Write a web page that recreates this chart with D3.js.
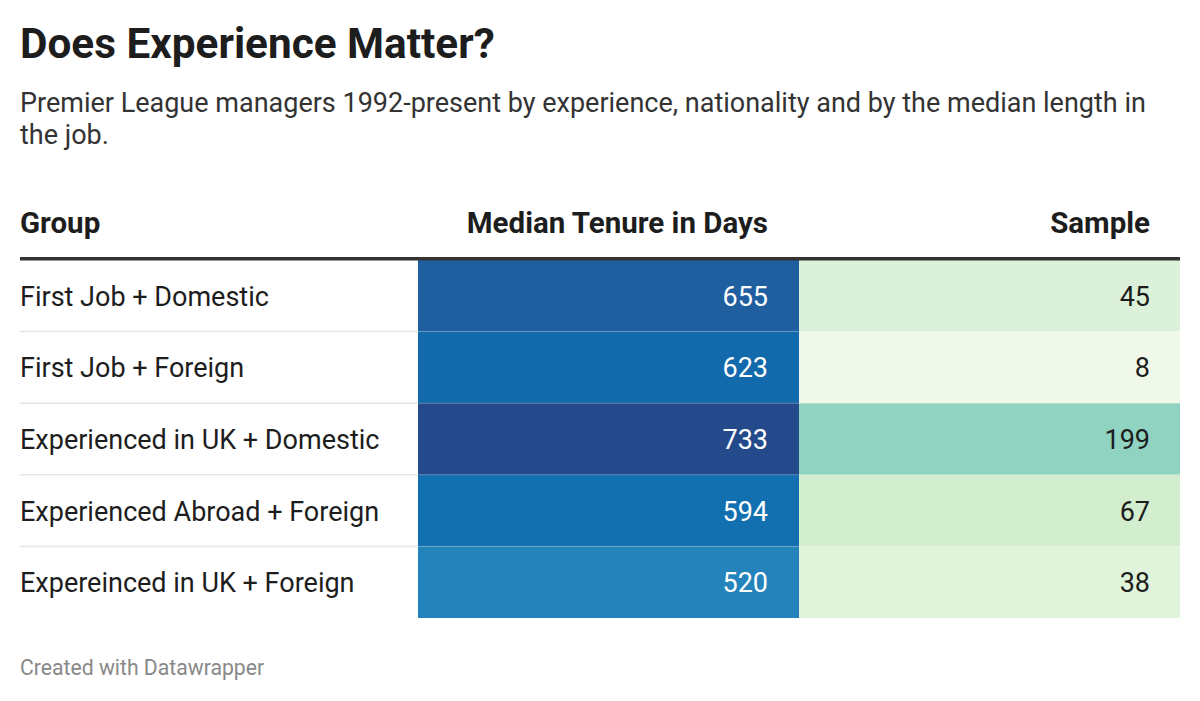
<!DOCTYPE html>
<html><head><meta charset="utf-8">
<script src="https://cdn.jsdelivr.net/npm/d3@7"></script>
<style>body{margin:0;background:#fff;font-family:Roboto,"Noto Sans",sans-serif;}</style>
</head><body><svg id="c" width="1200" height="701"></svg>
<script>
const groups = ["First Job + Domestic","First Job + Foreign","Experienced in UK + Domestic","Experienced Abroad + Foreign","Expereinced in UK + Foreign"];
const tenure = [655, 623, 733, 594, 520];
const sample = [45, 8, 199, 67, 38];
const headers = ["Group", "Median Tenure in Days", "Sample"];

const svg = d3.select("#c");
const W = 1200;
svg.append("rect").attr("width", W).attr("height", 701).attr("fill", "#fff");

svg.append("text").attr("x", 20).attr("y", 58).text("Does Experience Matter?")
  .attr("font-size", 42.3).attr("font-weight", 700).attr("fill", "#1d1d1d");
svg.append("text").attr("x", 20).attr("y", 112).text("Premier League managers 1992-present by experience, nationality and by the median length in")
  .attr("font-size", 27).attr("fill", "#333");
svg.append("text").attr("x", 20).attr("y", 144).text("the job.")
  .attr("font-size", 27).attr("fill", "#333");

// columns
const colX = [20, 418, 799, 1180];
const y = d3.scaleBand().domain(d3.range(groups.length)).range([260, 618]).padding(0);

const tenureColor = d3.scaleLinear().domain([520, 594, 623, 655, 733])
  .range(["#2583bb", "#1370b0", "#1269ab", "#1f5fa0", "#244a8b"]);
const sampleColor = d3.scaleLinear().domain([8, 38, 45, 67, 199])
  .range(["#f0f8e9", "#e0f3db", "#dcf1d9", "#d3edcf", "#90d3c1"]);

// headers
const hs = 29.5;
svg.append("text").attr("x", 20).attr("y", 233).text(headers[0]).attr("font-size", hs).attr("font-weight", 700).attr("fill", "#1d1d1d");
svg.append("text").attr("x", 768).attr("y", 233).attr("text-anchor", "end").text(headers[1]).attr("font-size", hs).attr("font-weight", 700).attr("fill", "#1d1d1d");
svg.append("text").attr("x", 1150).attr("y", 233).attr("text-anchor", "end").text(headers[2]).attr("font-size", hs).attr("font-weight", 700).attr("fill", "#1d1d1d");

const rows = svg.selectAll("g.row").data(groups.map((g, i) => ({g, t: tenure[i], s: sample[i], i})))
  .join("g").attr("class", "row");

rows.append("rect").attr("x", colX[1]).attr("y", d => y(d.i)).attr("width", colX[2] - colX[1]).attr("height", y.bandwidth())
  .attr("fill", d => tenureColor(d.t));
rows.append("rect").attr("x", colX[2]).attr("y", d => y(d.i)).attr("width", colX[3] - colX[2]).attr("height", y.bandwidth())
  .attr("fill", d => sampleColor(d.s));

// separators
rows.filter(d => d.i > 0).append("line")
  .attr("x1", 20).attr("x2", colX[1]).attr("y1", d => y(d.i)).attr("y2", d => y(d.i))
  .attr("stroke", "#e6e6e6").attr("stroke-width", 1.5);
rows.filter(d => d.i > 0).append("line")
  .attr("x1", colX[1]).attr("x2", colX[3]).attr("y1", d => y(d.i)).attr("y2", d => y(d.i))
  .attr("stroke", "#fff").attr("stroke-opacity", 0.1).attr("stroke-width", 1.5);

const rs = 27;
rows.append("text").attr("x", 20).attr("y", d => y(d.i) + y.bandwidth() / 2 + 10)
  .text(d => d.g).attr("font-size", rs).attr("fill", "#1d1d1d");
rows.append("text").attr("x", 768).attr("y", d => y(d.i) + y.bandwidth() / 2 + 10).attr("text-anchor", "end")
  .text(d => d.t).attr("font-size", rs).attr("fill", "#fff");
rows.append("text").attr("x", 1150).attr("y", d => y(d.i) + y.bandwidth() / 2 + 10).attr("text-anchor", "end")
  .text(d => d.s).attr("font-size", rs).attr("fill", "#1d1d1d");

// header rule
svg.append("rect").attr("x", 20).attr("y", 257).attr("width", 1160).attr("height", 3.5).attr("fill", "#333");

svg.append("text").attr("x", 20).attr("y", 675).text("Created with Datawrapper")
  .attr("font-size", 21.2).attr("fill", "#888");
</script></body></html>
